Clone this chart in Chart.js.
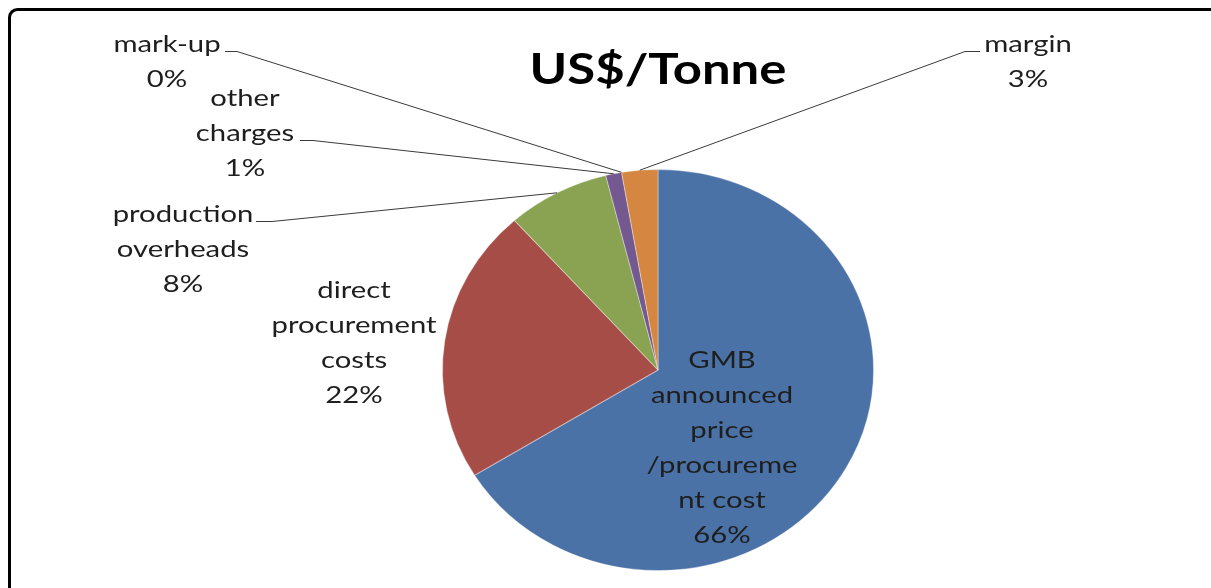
<!DOCTYPE html>
<html><head><meta charset="utf-8">
<script src="https://cdn.jsdelivr.net/npm/chart.js@4"></script>
<style>
html,body{margin:0;padding:0;background:#fff;overflow:hidden}
#wrap{position:relative;width:1211px;height:588px;overflow:hidden}
canvas{display:block}
</style></head>
<body><div id="wrap"><canvas id="c" width="1211" height="588"></canvas></div>
<script>
// ---- data ----
const categories = ["GMB announced price /procurement cost", "direct procurement costs", "production overheads", "other charges", "mark-up", "margin"];
const values = [66.2, 22.2, 7.7, 1.2, 0, 2.7];
const colors = ["#4A72A6", "#A64D48", "#8AA352", "#73598F", "#4BACC6", "#D58640"];
const labelLines = [
  ["GMB", "announced", "price", "/procureme", "nt cost"],
  ["direct", "procurement", "costs"],
  ["production", "overheads"],
  ["other", "charges"],
  ["mark-up"],
  ["margin"]
];
const titleText = "US$/Tonne";

// ---- layout (not data) ----
const PIE_SX = 1.075;      // horizontal stretch of pie
const TEXT_SX = 1.22;      // horizontal stretch of text
const FONT = "Lato, 'Open Sans', sans-serif";
const LINE_H = 35;
const labelLayout = [
  {x: 722, y: 360, leader: null},
  {x: 354, y: 290, leader: null},
  {x: 183, y: 214, leader: {line: 0, x0: 256, x1: 272}},
  {x: 245, y: 98,  leader: {line: 1, x0: 300, x1: 313}},
  {x: 167, y: 44,  leader: {line: 0, x0: 225, x1: 237}},
  {x: 1028, y: 44, leader: {line: 0, x0: 980, x1: 965}}
];

const total = values.reduce((a, b) => a + b, 0);

function drawText(ctx, str, x, y, font, sx) {
  ctx.save();
  ctx.translate(x, y);
  ctx.scale(sx, 1);
  ctx.font = font;
  ctx.textAlign = "center";
  ctx.textBaseline = "middle";
  ctx.fillText(str, 0, 0);
  ctx.restore();
}

const stretchPlugin = {
  id: "stretch",
  beforeDatasetsDraw(chart) {
    const ctx = chart.ctx;
    const a = chart.getDatasetMeta(0).data[0];
    ctx.save();
    ctx.translate(a.x, a.y);
    ctx.scale(PIE_SX, 1);
    ctx.translate(-a.x, -a.y);
  },
  afterDatasetsDraw(chart) {
    chart.ctx.restore();
  }
};

const decorPlugin = {
  id: "decor",
  afterDraw(chart) {
    const ctx = chart.ctx;
    // frame (only top and left edges fall inside the view)
    ctx.save();
    ctx.strokeStyle = "#000";
    ctx.lineWidth = 3;
    ctx.lineCap = "butt";
    ctx.beginPath();
    const r = 8, fx = 9.5, fy = 9.5;
    ctx.moveTo(fx, 588);
    ctx.lineTo(fx, fy + r);
    ctx.arcTo(fx, fy, fx + r, fy, r);
    ctx.lineTo(1211, fy);
    ctx.stroke();
    ctx.restore();

    // title
    ctx.save();
    ctx.fillStyle = "#000";
    drawText(ctx, titleText, 658, 70, "bold 42px " + FONT, 1.21);
    ctx.restore();

    const meta = chart.getDatasetMeta(0);
    ctx.save();
    ctx.fillStyle = "#1e1e1e";
    ctx.strokeStyle = "#3a3a3a";
    ctx.lineWidth = 1;
    meta.data.forEach((arc, i) => {
      const L = labelLayout[i];
      const lines = labelLines[i].concat([Math.round(values[i] / total * 100) + "%"]);
      lines.forEach((s, k) => drawText(ctx, s, L.x, L.y + k * LINE_H, "24px " + FONT, TEXT_SX));
      if (L.leader) {
        const mid = (arc.startAngle + arc.endAngle) / 2;
        const px = arc.x + Math.cos(mid) * arc.outerRadius * PIE_SX;
        const py = arc.y + Math.sin(mid) * arc.outerRadius;
        const ly = L.y + L.leader.line * LINE_H + 7.5;
        ctx.beginPath();
        ctx.moveTo(L.leader.x0, ly);
        ctx.lineTo(L.leader.x1, ly);
        ctx.lineTo(px, py);
        ctx.stroke();
      }
    });
    ctx.restore();
  }
};

new Chart(document.getElementById("c"), {
  type: "pie",
  data: {
    labels: categories,
    datasets: [{
      data: values,
      backgroundColor: colors,
      borderColor: "rgba(255,255,255,0.35)",
      borderWidth: 1
    }]
  },
  options: {
    responsive: false,
    animation: false,
    layout: {padding: {top: 169, bottom: 17, left: 457, right: 352}},
    plugins: {legend: {display: false}, tooltip: {enabled: false}, title: {display: false}}
  },
  plugins: [stretchPlugin, decorPlugin]
});
</script>
</body></html>
